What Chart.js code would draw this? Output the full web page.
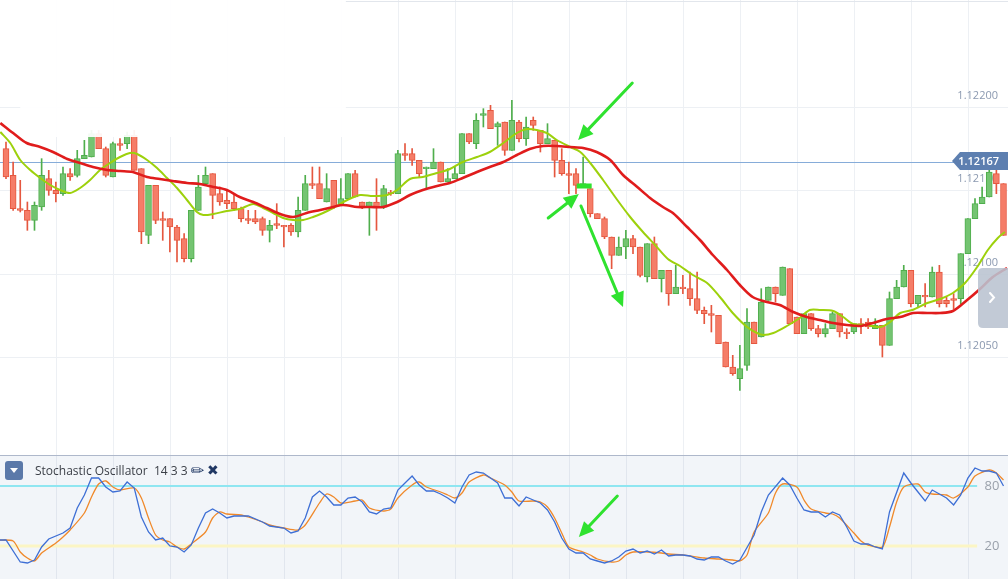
<!DOCTYPE html>
<html><head><meta charset="utf-8">
<script src="https://cdn.jsdelivr.net/npm/chart.js@4.4.1/dist/chart.umd.min.js"></script>
<style>
html,body{margin:0;padding:0;background:#fff;}
#wrap{position:relative;width:1008px;height:579px;overflow:hidden;font-family:"Open Sans",sans-serif;}
#main{position:absolute;left:0;top:0;}
#osc{position:absolute;left:0;top:456px;background:#f2f5f9;}
#sep{position:absolute;left:0;top:455px;width:1008px;height:1px;background:#aeb8cb;}
#hdr{position:absolute;left:5px;top:460px;height:20px;display:flex;align-items:center;}
#btn{width:18px;height:19px;border-radius:3px;background:#5b79a9;display:flex;align-items:center;justify-content:center;}
#tri{width:0;height:0;border-left:4px solid transparent;border-right:4px solid transparent;border-top:5px solid #fff;}
#title{margin-left:12px;font-size:12px;color:#3c4048;white-space:pre;}
#pen,#xx{font-family:"DejaVu Sans",sans-serif;color:#1f3763;}
#pen{margin-left:3px;font-size:16px;}
#xx{margin-left:3px;font-size:14px;}
</style></head>
<body><div id="wrap">
<canvas id="main" width="1008" height="455"></canvas>
<div id="sep"></div>
<canvas id="osc" width="1008" height="123"></canvas>
<div id="hdr"><div id="btn"><div id="tri"></div></div><span id="title">Stochastic Oscillator  14 3 3</span><span id="pen">✏</span><span id="xx">✖</span></div>
</div>
<script>
// ---------- DATA ----------
const open = [
1.12175,1.12159,1.12139,1.12138,1.12132,1.12140,1.12157,1.12150,1.12148,1.12160,
1.12159,1.12169,1.12170,1.12184,1.12175,1.12158,1.12178,1.12178,1.12183,1.12163,
1.12123,1.12153,1.12133,1.12133,1.12128,1.12121,1.12109,1.12138,1.12154,1.12160,
1.12148,1.12144,1.12143,1.12139,1.12133,1.12133,1.12133,1.12126,1.12130,1.12129,
1.12129,1.12125,1.12138,1.12154,1.12154,1.12143,1.12156,1.12141,1.12145,1.12160,
1.12143,1.12140,1.12143,1.12140,1.12149,1.12148,1.12172,1.12172,1.12168,1.12163,
1.12163,1.12167,1.12155,1.12157,1.12160,1.12184,1.12178,1.12195,1.12198,1.12188,
1.12191,1.12174,1.12191,1.12181,1.12192,1.12186,1.12178,1.12180,1.12168,1.12160,
1.12160,1.12153,1.12151,1.12136,1.12133,1.12122,1.12111,1.12116,1.12121,1.12116,
1.12098,1.12118,1.12097,1.12102,1.12088,1.12092,1.12091,1.12085,1.12078,1.12076,
1.12075,1.12059,1.12044,1.12037,1.12045,1.12071,1.12062,1.12084,1.12092,1.12087,
1.12103,1.12074,1.12064,1.12076,1.12067,1.12064,1.12067,1.12076,1.12065,1.12065,
1.12070,1.12071,1.12067,1.12069,1.12057,1.12085,1.12092,1.12102,1.12082,1.12087,
1.12086,1.12101,1.12084,1.12085,1.12085,1.12112,1.12133,1.12142,1.12146,1.12160,
1.12154];
const high = [
1.12179,1.12167,1.12156,1.12143,1.12143,1.12169,1.12162,1.12155,1.12164,1.12163,
1.12174,1.12180,1.12186,1.12186,1.12176,1.12179,1.12181,1.12185,1.12186,1.12163,
1.12153,1.12153,1.12137,1.12133,1.12129,1.12124,1.12138,1.12159,1.12164,1.12160,
1.12152,1.12150,1.12147,1.12140,1.12138,1.12138,1.12134,1.12132,1.12142,1.12129,
1.12130,1.12146,1.12159,1.12164,1.12164,1.12160,1.12156,1.12157,1.12160,1.12162,
1.12143,1.12143,1.12157,1.12153,1.12150,1.12174,1.12178,1.12175,1.12168,1.12164,
1.12175,1.12167,1.12163,1.12164,1.12184,1.12184,1.12196,1.12199,1.12201,1.12191,
1.12191,1.12204,1.12192,1.12194,1.12194,1.12186,1.12190,1.12180,1.12175,1.12167,
1.12163,1.12170,1.12151,1.12136,1.12134,1.12122,1.12122,1.12126,1.12123,1.12116,
1.12118,1.12122,1.12102,1.12102,1.12105,1.12099,1.12101,1.12101,1.12080,1.12081,
1.12075,1.12059,1.12051,1.12057,1.12079,1.12071,1.12091,1.12092,1.12092,1.12104,
1.12103,1.12074,1.12076,1.12076,1.12069,1.12070,1.12077,1.12076,1.12067,1.12070,
1.12073,1.12073,1.12073,1.12069,1.12089,1.12096,1.12105,1.12102,1.12087,1.12094,
1.12104,1.12105,1.12086,1.12088,1.12112,1.12133,1.12145,1.12152,1.12162,1.12162,
1.12154];
const low = [
1.12157,1.12138,1.12137,1.12126,1.12126,1.12138,1.12147,1.12143,1.12147,1.12156,
1.12158,1.12169,1.12170,1.12175,1.12158,1.12158,1.12174,1.12175,1.12162,1.12118,
1.12118,1.12130,1.12120,1.12113,1.12107,1.12107,1.12107,1.12138,1.12154,1.12133,
1.12141,1.12139,1.12138,1.12131,1.12130,1.12130,1.12123,1.12119,1.12127,1.12116,
1.12123,1.12122,1.12138,1.12151,1.12145,1.12143,1.12139,1.12141,1.12145,1.12146,
1.12139,1.12123,1.12126,1.12139,1.12147,1.12148,1.12168,1.12165,1.12158,1.12151,
1.12163,1.12155,1.12155,1.12157,1.12160,1.12178,1.12175,1.12188,1.12187,1.12177,
1.12171,1.12174,1.12179,1.12177,1.12186,1.12173,1.12178,1.12158,1.12159,1.12148,
1.12148,1.12152,1.12134,1.12133,1.12121,1.12103,1.12111,1.12109,1.12112,1.12098,
1.12095,1.12097,1.12089,1.12081,1.12088,1.12088,1.12081,1.12076,1.12070,1.12065,
1.12058,1.12044,1.12039,1.12030,1.12042,1.12058,1.12062,1.12084,1.12083,1.12087,
1.12070,1.12064,1.12064,1.12066,1.12062,1.12062,1.12067,1.12062,1.12061,1.12064,
1.12064,1.12067,1.12067,1.12050,1.12057,1.12085,1.12092,1.12080,1.12080,1.12080,
1.12086,1.12080,1.12080,1.12079,1.12082,1.12112,1.12133,1.12142,1.12146,1.12148,
1.12123];
const close = [
1.12158,1.12139,1.12138,1.12132,1.12141,1.12159,1.12150,1.12148,1.12160,1.12158,
1.12169,1.12171,1.12184,1.12175,1.12159,1.12178,1.12177,1.12183,1.12162,1.12125,
1.12153,1.12132,1.12132,1.12128,1.12120,1.12109,1.12138,1.12152,1.12159,1.12147,
1.12143,1.12142,1.12139,1.12133,1.12132,1.12131,1.12126,1.12129,1.12129,1.12128,
1.12125,1.12138,1.12154,1.12153,1.12145,1.12151,1.12140,1.12145,1.12160,1.12146,
1.12140,1.12143,1.12140,1.12151,1.12148,1.12172,1.12171,1.12168,1.12160,1.12164,
1.12167,1.12155,1.12157,1.12160,1.12184,1.12179,1.12192,1.12196,1.12187,1.12190,
1.12174,1.12192,1.12181,1.12188,1.12189,1.12178,1.12181,1.12168,1.12160,1.12159,
1.12153,1.12154,1.12136,1.12133,1.12122,1.12111,1.12116,1.12121,1.12116,1.12099,
1.12118,1.12097,1.12102,1.12088,1.12092,1.12091,1.12085,1.12078,1.12076,1.12075,
1.12058,1.12044,1.12040,1.12043,1.12071,1.12058,1.12083,1.12092,1.12088,1.12104,
1.12070,1.12064,1.12076,1.12067,1.12064,1.12067,1.12076,1.12065,1.12064,1.12070,
1.12069,1.12068,1.12069,1.12057,1.12085,1.12092,1.12102,1.12082,1.12087,1.12086,
1.12101,1.12082,1.12082,1.12084,1.12112,1.12133,1.12142,1.12146,1.12161,1.12154,
1.12123];

// moving averages: [candle position, price]
const maFast = [[-0.8,1.12185],[0.6,1.121784],[2.0,1.121682],[3.4,1.121622],[4.8,1.121574],[6.2,1.121532],[7.6,1.121502],[9.0,1.121484],[10.4,1.121514],[11.8,1.121562],[13.2,1.121622],[14.6,1.121664],[16.0,1.1217],[17.4,1.121724],[18.4,1.121718],[19.8,1.121682],[21.2,1.121634],[22.6,1.121574],[24.0,1.121514],[25.4,1.121442],[26.8,1.12137],[27.7,1.121352],[29.1,1.121358],[31.0,1.121376],[32.8,1.121388],[34.7,1.121418],[36.1,1.121394],[37.5,1.121364],[38.9,1.121334],[40.3,1.121322],[41.7,1.121322],[43.1,1.12134],[44.5,1.121364],[45.9,1.121394],[47.9,1.121442],[49.7,1.121472],[51.5,1.121466],[53.5,1.121472],[54.9,1.121502],[56.7,1.121568],[58.5,1.12158],[60.5,1.121604],[62.3,1.121628],[64.1,1.12167],[66.1,1.1217],[67.9,1.12173],[69.8,1.121784],[71.7,1.121844],[73.1,1.121868],[74.5,1.121862],[75.9,1.121844],[77.3,1.121802],[79.2,1.12176],[80.6,1.12173],[82.0,1.121664],[83.8,1.121562],[85.8,1.121442],[87.6,1.12134],[89.4,1.12125],[91.1,1.121172],[92.9,1.121088],[94.6,1.121046],[96.4,1.120992],[98.4,1.120944],[100.2,1.12086],[102.0,1.120764],[104.0,1.12068],[105.4,1.120644],[106.3,1.120632],[107.7,1.120644],[109.6,1.120686],[111.4,1.120734],[112.8,1.120782],[114.3,1.120782],[116.1,1.120776],[117.5,1.12074],[118.9,1.120698],[120.8,1.120692],[122.7,1.12068],[124.1,1.12071],[125.5,1.120764],[127.2,1.120782],[129.3,1.120824],[131.1,1.120848],[132.9,1.120884],[134.6,1.120944],[136.3,1.12104],[137.8,1.121142],[139.2,1.121214],[140.2,1.12125]];
const maSlow = [[-0.8,1.121904],[1.0,1.121844],[2.9,1.121784],[4.8,1.12176],[6.6,1.12173],[8.6,1.121688],[10.4,1.121664],[12.2,1.12164],[14.2,1.121622],[16.0,1.121616],[17.8,1.12161],[19.8,1.12158],[21.6,1.121568],[23.4,1.121556],[25.4,1.121544],[27.2,1.121538],[29.1,1.12152],[31.0,1.121502],[32.8,1.12146],[34.7,1.12143],[36.6,1.121394],[38.5,1.121358],[40.3,1.12134],[42.2,1.121364],[44.1,1.121382],[45.9,1.1214],[47.3,1.121412],[49.3,1.1214],[51.1,1.1214],[52.9,1.1214],[54.9,1.12143],[56.7,1.121472],[58.5,1.121502],[60.5,1.121526],[62.3,1.121544],[64.1,1.121574],[66.1,1.12161],[67.9,1.12164],[69.8,1.12167],[71.7,1.121712],[73.5,1.121748],[75.4,1.121766],[77.3,1.121766],[79.2,1.12176],[81.0,1.121754],[82.9,1.12173],[84.8,1.121682],[86.6,1.121592],[88.6,1.12152],[90.4,1.121454],[92.2,1.1214],[93.6,1.121364],[95.6,1.12128],[97.4,1.121202],[99.2,1.121112],[101.2,1.121022],[103.0,1.120932],[104.8,1.12086],[106.8,1.12083],[108.6,1.120812],[110.5,1.12077],[112.4,1.12074],[114.2,1.120722],[116.1,1.120704],[118.0,1.120692],[119.9,1.120686],[121.7,1.120704],[123.6,1.120728],[125.5,1.12074],[127.3,1.120764],[129.3,1.120764],[131.1,1.120764],[132.9,1.120776],[134.9,1.120842],[136.7,1.120908],[138.5,1.12098],[140.5,1.121034]];

// stochastic oscillator: [candle, value]
const stochK = [[-1,26],[0,26],[2,4],[3,3],[4,6],[5,19],[6,27],[8,33],[9,38],[10,58],[11,71],[12,88],[13,88],[14,79],[15,74],[16,75],[17,84],[18,78],[19,49],[20,34],[21,26],[22,28],[23,20],[24,19],[25,14],[26,21],[27,38],[28,53],[29,57],[30,53],[31,48],[32,50],[34,50],[36,44],[37,40],[39,38],[40,33],[41,35],[42,48],[43,69],[44,75],[45,69],[46,61],[47,61],[48,68],[49,69],[50,64],[51,54],[52,52],[53,57],[54,58],[55,76],[56,83],[57,90],[58,81],[59,75],[60,75],[61,72],[62,68],[63,63],[64,79],[65,91],[66,94],[67,93],[68,88],[69,83],[70,68],[71,68],[72,60],[73,69],[74,66],[75,63],[76,56],[77,44],[78,28],[79,17],[80,13],[81,13],[82,7],[83,5],[84,3],[85,5],[86,9],[87,15],[88,17],[89,13],[90,15],[91,12],[92,16],[93,10],[94,11],[95,11],[96,10],[97,7],[98,6],[99,9],[100,9],[101,5],[102,2],[103,6],[105,31],[106,54],[107,71],[109,88],[110,81],[111,68],[112,56],[113,54],[114,54],[115,49],[116,54],[117,51],[118,39],[119,25],[120,22],[121,22],[122,19],[123,17],[124,54],[126,93],[127,83],[128,74],[129,65],[130,76],[131,72],[132,68],[133,61],[134,71],[135,88],[136,98],[137,95],[138,95],[139,93],[140,80]];
const stochD = [[-1,26],[1,25],[2,14],[3,8],[4,5],[5,13],[7,23],[8,29],[9,36],[11,53],[12,69],[13,82],[14,85],[15,79],[16,76],[18,78],[19,68],[20,48],[21,31],[22,26],[23,24],[24,19],[25,17],[26,22],[28,34],[29,48],[30,54],[31,52],[33,51],[34,49],[36,44],[37,41],[39,38],[41,36],[42,41],[44,63],[45,72],[46,69],[47,63],[49,65],[50,66],[51,58],[53,55],[54,57],[55,68],[57,81],[58,84],[59,79],[61,74],[62,71],[63,68],[64,73],[65,84],[67,91],[68,88],[70,81],[71,74],[72,65],[74,65],[75,64],[76,59],[77,48],[78,33],[79,19],[81,14],[82,11],[83,7],[85,4],[86,5],[87,11],[88,14],[90,14],[92,13],[93,12],[95,11],[96,10],[98,8],[100,7],[102,6],[103,5],[104,11],[105,34],[107,53],[108,73],[109,82],[111,79],[112,66],[113,57],[115,53],[116,52],[117,48],[119,33],[120,25],[121,21],[123,19],[124,39],[125,64],[126,79],[128,82],[129,74],[130,72],[132,71],[133,68],[135,79],[136,90],[138,96],[139,93],[140,86]];

const priceTicks = [1.12200, 1.12150, 1.12100, 1.12050];
const currentPrice = 1.12167;
const stochLevels = [80, 20];
const gridCandles = [7,15,23,31,39,47,55,63,71,79,87,95,103,111,119,127,135];

// ---------- LAYOUT CONSTANTS ----------
const X_MIN = -6/7.125, X_MAX = X_MIN + 1008/7.125;
const Y_MIN = 1.119912, Y_MAX = 1.122642;
const UP_FILL='#74c471', UP_LINE='#4fae4c', DN_FILL='#f57d68', DN_LINE='#e5573f';
const ARROW='#2fe22f';

const idx = open.map((_, i) => i);
const isUp = i => close[i] >= open[i];

function arrow(ctx, x1, y1, x2, y2){
  const ang = Math.atan2(y2-y1, x2-x1), L = 15, W = 7;
  const bx = x2 - L*Math.cos(ang), by = y2 - L*Math.sin(ang);
  ctx.beginPath(); ctx.moveTo(x1,y1); ctx.lineTo(bx,by); ctx.stroke();
  ctx.beginPath(); ctx.moveTo(x2,y2);
  ctx.lineTo(bx + W*Math.sin(ang), by - W*Math.cos(ang));
  ctx.lineTo(bx - W*Math.sin(ang), by + W*Math.cos(ang));
  ctx.closePath(); ctx.fill();
}

const mainDecor = {
  id:'mainDecor',
  beforeDatasetsDraw(chart){
    const {ctx, chartArea:a, scales:{x,y}} = chart;
    ctx.save();
    ctx.strokeStyle='#edf0f4'; ctx.lineWidth=1;
    gridCandles.forEach(k=>{const px=Math.round(x.getPixelForValue(k))+0.5;ctx.beginPath();ctx.moveTo(px,a.top);ctx.lineTo(px,a.bottom);ctx.stroke();});
    priceTicks.forEach(p=>{const py=Math.round(y.getPixelForValue(p))+0.5;ctx.beginPath();ctx.moveTo(a.left,py);ctx.lineTo(a.right,py);ctx.stroke();});
    ctx.fillStyle='#8b99b0'; ctx.font='11px "Open Sans"'; ctx.textAlign='right'; ctx.textBaseline='middle';
    priceTicks.forEach(p=>ctx.fillText(p.toFixed(5), a.right-10, y.getPixelForValue(p)-11));
    const cy = Math.round(y.getPixelForValue(currentPrice))+0.5;
    ctx.strokeStyle='#86acd9'; ctx.beginPath(); ctx.moveTo(a.left,cy); ctx.lineTo(a.right,cy); ctx.stroke();
    ctx.restore();
  },
  afterDatasetsDraw(chart){
    const {ctx, chartArea:a, scales:{x,y}} = chart;
    ctx.save();
    // faded watermark panel at top-left
    ctx.fillStyle='rgba(255,255,255,0.93)';
    ctx.fillRect(x.getPixelForValue(2), a.top, x.getPixelForValue(47.7)-x.getPixelForValue(2), y.getPixelForValue(1.12182)-a.top);
    ctx.strokeStyle='#e2e6ec'; ctx.lineWidth=1; ctx.beginPath(); ctx.moveTo(x.getPixelForValue(47.7),1.5); ctx.lineTo(a.right,1.5); ctx.stroke();
    // annotations
    ctx.strokeStyle=ARROW; ctx.fillStyle=ARROW; ctx.lineWidth=3; ctx.lineCap='round';
    const P=(k,p)=>[x.getPixelForValue(k), y.getPixelForValue(p)];
    arrow(ctx, ...P(87.9,1.122144), ...P(80.3,1.121802));
    arrow(ctx, ...P(76.1,1.121334), ...P(80.4,1.121478));
    arrow(ctx, ...P(80.7,1.121406), ...P(86.6,1.1208));
    ctx.lineWidth=5; ctx.lineCap='butt';
    const b1=P(80.1,1.121526), b2=P(82.2,1.121526);
    ctx.beginPath(); ctx.moveTo(b1[0],b1[1]); ctx.lineTo(b2[0],b2[1]); ctx.stroke();
    // current price tag
    const cy = y.getPixelForValue(currentPrice)-1;
    ctx.fillStyle='#5d7fb0';
    ctx.beginPath(); ctx.moveTo(a.right-56,cy); ctx.lineTo(a.right-48,cy-9); ctx.lineTo(a.right,cy-9); ctx.lineTo(a.right,cy+9); ctx.lineTo(a.right-48,cy+9); ctx.closePath(); ctx.fill();
    ctx.fillStyle='#ffffff'; ctx.font='600 11px "Open Sans"'; ctx.textAlign='right'; ctx.textBaseline='middle';
    ctx.fillText(currentPrice.toFixed(5), a.right-9, cy+0.5);
    // side navigation button
    const bx=a.right-30, by=268, bw=40, bh=60, r=5;
    ctx.fillStyle='rgba(186,195,208,0.88)';
    ctx.beginPath(); ctx.moveTo(bx+r,by); ctx.lineTo(bx+bw,by); ctx.lineTo(bx+bw,by+bh); ctx.lineTo(bx+r,by+bh);
    ctx.quadraticCurveTo(bx,by+bh,bx,by+bh-r); ctx.lineTo(bx,by+r); ctx.quadraticCurveTo(bx,by,bx+r,by); ctx.fill();
    ctx.strokeStyle='#ffffff'; ctx.lineWidth=2; ctx.lineCap='round';
    ctx.beginPath(); ctx.moveTo(bx+12,by+25); ctx.lineTo(bx+16,by+29.5); ctx.lineTo(bx+12,by+34); ctx.stroke();
    ctx.restore();
  }
};

new Chart(document.getElementById('main'), {
  type:'bar',
  data:{datasets:[
    {type:'bar', label:'wick', data: idx.map(i=>({x:i, y:[low[i], high[i]]})),
     backgroundColor: idx.map(i=>isUp(i)?UP_LINE:DN_LINE), barThickness:1, grouped:false, order:3},
    {type:'bar', label:'body', data: idx.map(i=>({x:i, y:[open[i], close[i]]})),
     backgroundColor: idx.map(i=>isUp(i)?UP_FILL:DN_FILL), borderColor: idx.map(i=>isUp(i)?UP_LINE:DN_LINE),
     borderWidth:1, borderSkipped:false, barThickness:6, grouped:false, order:2},
    {type:'line', label:'MA fast', data: maFast.map(([k,v])=>({x:k,y:v})), borderColor:'#9dd10c', borderWidth:2, pointRadius:0, tension:0.3, order:1},
    {type:'line', label:'MA slow', data: maSlow.map(([k,v])=>({x:k,y:v})), borderColor:'#e01c1c', borderWidth:2.6, pointRadius:0, tension:0.3, order:0}
  ]},
  options:{
    responsive:false, animation:false, events:[],
    layout:{padding:0},
    plugins:{legend:{display:false}, tooltip:{enabled:false}},
    scales:{
      x:{type:'linear', min:X_MIN, max:X_MAX, offset:false, bounds:'ticks', display:false},
      y:{type:'linear', min:Y_MIN, max:Y_MAX, display:false}
    }
  },
  plugins:[mainDecor]
});

const oscDecor = {
  id:'oscDecor',
  beforeDatasetsDraw(chart){
    const {ctx, chartArea:a, scales:{x,y}} = chart;
    ctx.save();
    ctx.strokeStyle='#e1e6ee'; ctx.lineWidth=1;
    gridCandles.forEach(k=>{const px=Math.round(x.getPixelForValue(k))+0.5;ctx.beginPath();ctx.moveTo(px,a.top);ctx.lineTo(px,a.bottom);ctx.stroke();});
    const xe = x.getPixelForValue(136.3);
    ctx.strokeStyle='#fbf5c4'; ctx.lineWidth=3;
    let py=y.getPixelForValue(stochLevels[1]); ctx.beginPath(); ctx.moveTo(a.left,py); ctx.lineTo(xe,py); ctx.stroke();
    ctx.strokeStyle='#8fe6f1'; ctx.lineWidth=2;
    py=y.getPixelForValue(stochLevels[0]); ctx.beginPath(); ctx.moveTo(a.left,py); ctx.lineTo(xe,py); ctx.stroke();
    ctx.fillStyle='#9aa1ab'; ctx.font='13px "Open Sans"'; ctx.textAlign='center'; ctx.textBaseline='middle';
    stochLevels.forEach(v=>ctx.fillText(String(v), a.right-16, y.getPixelForValue(v)));
    ctx.restore();
  },
  afterDatasetsDraw(chart){
    const {ctx, scales:{x,y}} = chart;
    ctx.save();
    ctx.strokeStyle=ARROW; ctx.fillStyle=ARROW; ctx.lineWidth=3; ctx.lineCap='round';
    arrow(ctx, x.getPixelForValue(85.8), y.getPixelForValue(70), x.getPixelForValue(80.4), y.getPixelForValue(29));
    ctx.restore();
  }
};

new Chart(document.getElementById('osc'), {
  type:'line',
  data:{datasets:[
    {label:'%D', data: stochD.map(([k,v])=>({x:k,y:v})), borderColor:'#f0892a', borderWidth:1.3, pointRadius:0, tension:0.25, order:1},
    {label:'%K', data: stochK.map(([k,v])=>({x:k,y:v})), borderColor:'#3e6fd5', borderWidth:1.3, pointRadius:0, tension:0, order:0}
  ]},
  options:{
    responsive:false, animation:false, events:[],
    layout:{padding:0},
    plugins:{legend:{display:false}, tooltip:{enabled:false}},
    scales:{
      x:{type:'linear', min:X_MIN, max:X_MAX, display:false},
      y:{type:'linear', min:-13, max:110, display:false}
    }
  },
  plugins:[oscDecor]
});
</script>
</body></html>
